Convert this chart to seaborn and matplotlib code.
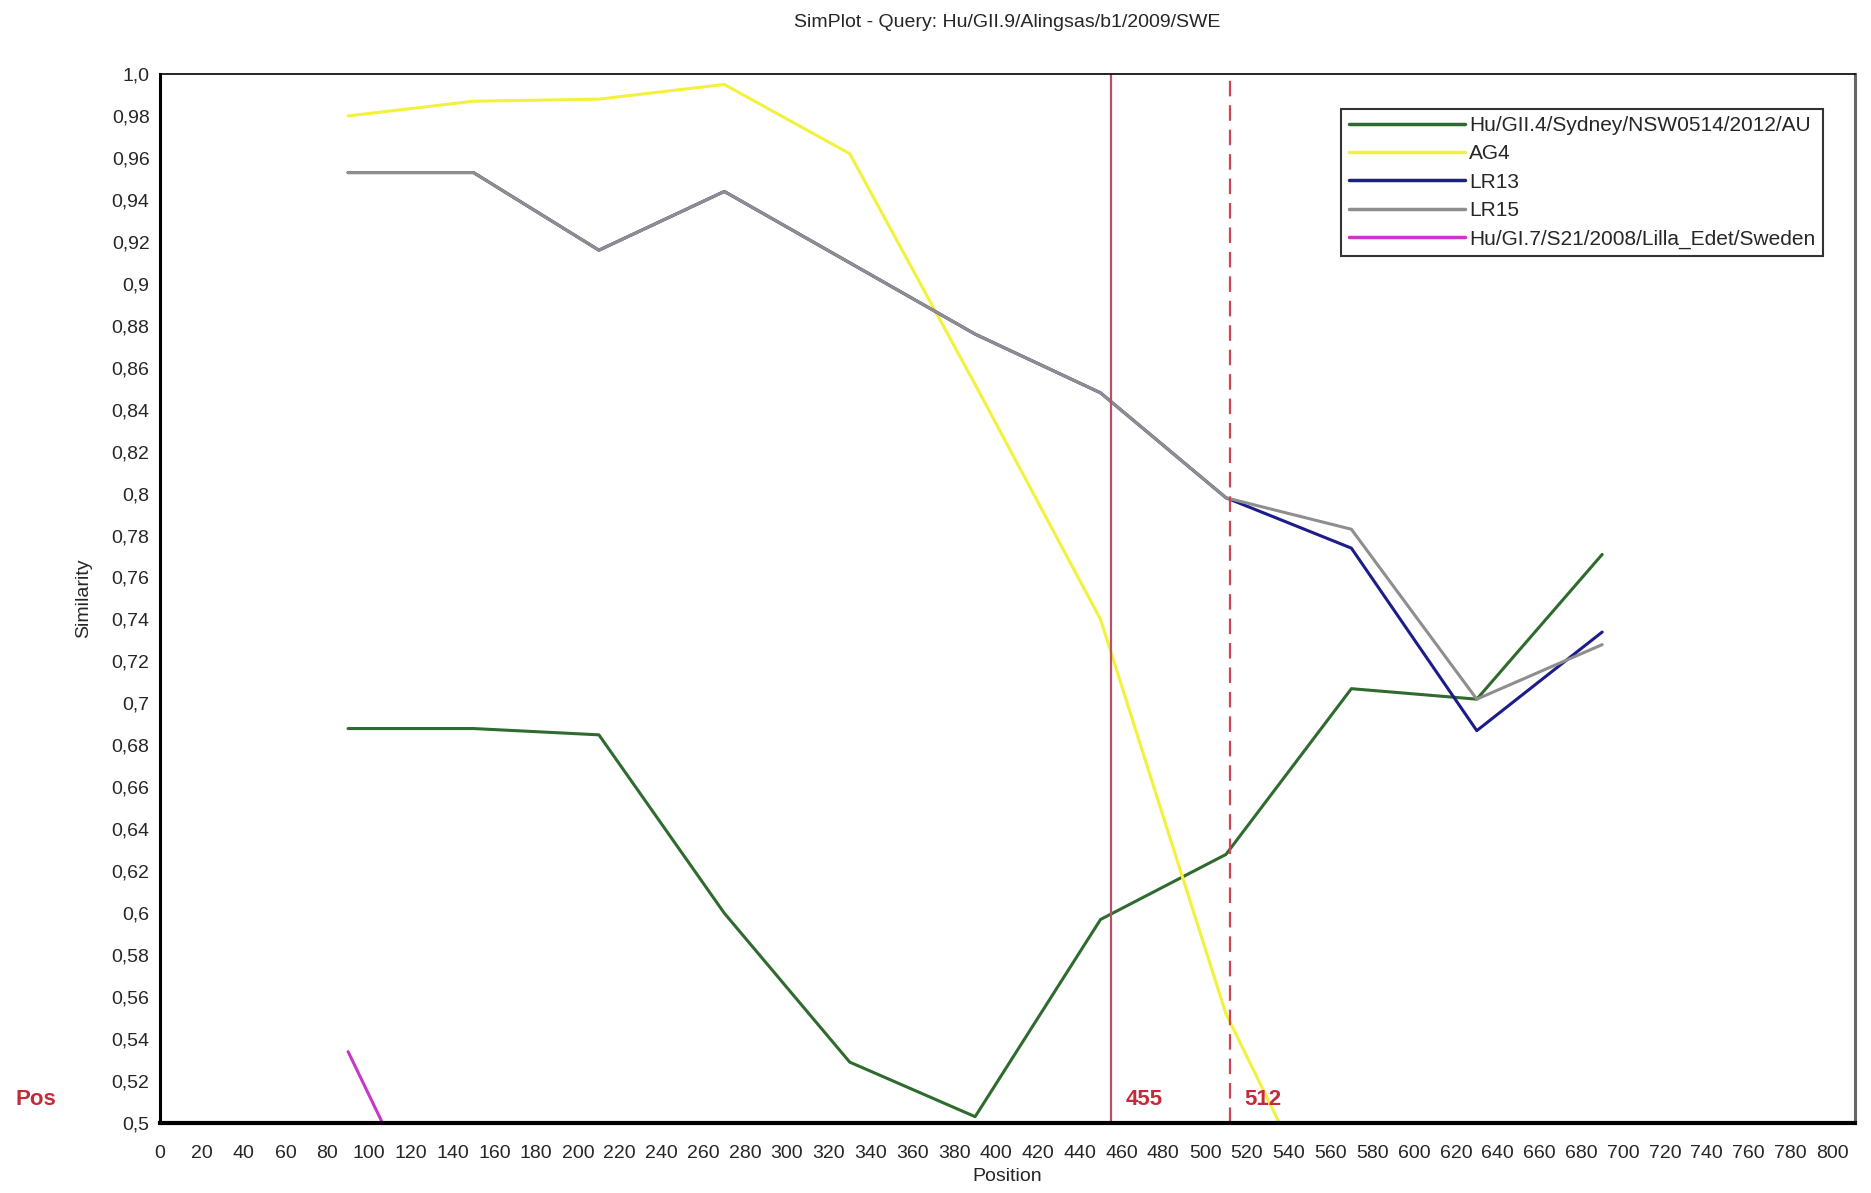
"""
SimPlot similarity recreation: query Hu/GII.9/Alingsas/b1/2009/SWE.
"""

import numpy as np
import pandas as pd
import matplotlib.pyplot as plt
import seaborn as sns
from matplotlib.ticker import MultipleLocator, FuncFormatter

# window centres (bp)
POSITIONS = [90, 150, 210, 270, 330, 390, 450, 510, 570, 630, 690]

SEQ_NAMES = [
    "Hu/GII.4/Sydney/NSW0514/2012/AU",
    "AG4",
    "LR13",
    "LR15",
    "Hu/GI.7/S21/2008/Lilla_Edet/Sweden",
]

sim_gii4 = [0.688, 0.688, 0.685, 0.600, 0.529, 0.503, 0.597, 0.628, 0.707, 0.702, 0.771]
sim_ag4 = [0.980, 0.987, 0.988, 0.995, 0.962, 0.852, 0.740, 0.552, 0.430]
sim_lr13 = [0.953, 0.953, 0.916, 0.944, 0.910, 0.876, 0.848, 0.798, 0.774, 0.687, 0.734]
sim_lr15 = [0.953, 0.953, 0.916, 0.944, 0.910, 0.876, 0.848, 0.798, 0.783, 0.702, 0.728]
sim_gi7 = [0.534, 0.410]

BREAKPOINTS = [455, 512]

COLORS = ["#2f6a2f", "#f2f23c", "#1c1c8a", "#8e8e8e", "#c837c8"]

rows = []
for name, vals in zip(SEQ_NAMES, [sim_gii4, sim_ag4, sim_lr13, sim_lr15, sim_gi7]):
    for p, v in zip(POSITIONS, vals):
        rows.append({"Position": p, "Similarity": v, "seq": name})
df = pd.DataFrame(rows)

sns.set_style("white")
plt.rcParams["font.family"] = ["Liberation Sans", "DejaVu Sans"]

fig = plt.figure(figsize=(18.71, 11.93), dpi=100)
ax = fig.add_axes([0.0855, 0.0587, 0.906, 0.8793])

sns.lineplot(data=df, x="Position", y="Similarity", hue="seq", hue_order=SEQ_NAMES,
             palette=dict(zip(SEQ_NAMES, COLORS)), estimator=None, sort=False,
             linewidth=2.2, ax=ax)

ax.axvline(BREAKPOINTS[0], color="#b8506a", linewidth=1.6)
ax.axvline(BREAKPOINTS[1], color="#cc4455", linewidth=1.6, linestyle=(0, (7, 4)))
for bp in BREAKPOINTS:
    ax.text(bp + 7, 0.511, str(bp), color="#c42a3a", fontsize=16, fontweight="bold",
            ha="left", va="center")
ax.text(-0.085, 0.511, "Pos", transform=ax.get_yaxis_transform(), color="#c42a3a",
        fontsize=16, fontweight="bold", ha="left", va="center")

ax.set_xlim(0, 811)
ax.set_ylim(0.5, 1.0)
ax.xaxis.set_major_locator(MultipleLocator(20))
ax.xaxis.set_minor_locator(MultipleLocator(5))
ax.yaxis.set_major_locator(MultipleLocator(0.02))


def comma_fmt(v, _):
    if abs(v - 1.0) < 1e-9:
        return "1,0"
    return f"{v:.2f}".rstrip("0").replace(".", ",")


ax.yaxis.set_major_formatter(FuncFormatter(comma_fmt))
ax.tick_params(axis="both", which="major", direction="out", length=4, width=1,
               labelsize=14, color="#888888")
ax.tick_params(axis="x", which="minor", direction="out", length=2, width=0.8, color="#888888")
ax.tick_params(axis="x", which="major", pad=12)

for side in ["left", "bottom"]:
    ax.spines[side].set_color("black")
ax.spines["left"].set_linewidth(2.2)
ax.spines["bottom"].set_linewidth(3.0)
ax.spines["top"].set_color("black")
ax.spines["top"].set_linewidth(1.2)
ax.spines["right"].set_color("#666666")
ax.spines["right"].set_linewidth(2.2)

ax.set_xlabel("Position", fontsize=14, labelpad=4)
ax.set_ylabel("Similarity", fontsize=14, labelpad=14)
ax.set_title("SimPlot - Query: Hu/GII.9/Alingsas/b1/2009/SWE", fontsize=14, pad=34)

leg = ax.legend(loc="upper right", bbox_to_anchor=(0.981, 0.967), fontsize=15,
                frameon=True, fancybox=False, edgecolor="black", handlelength=5.6,
                handletextpad=0.2, labelspacing=0.45, borderpad=0.35, borderaxespad=0)
leg.get_frame().set_linewidth(1.5)
for line in leg.get_lines():
    line.set_linewidth(2.5)

fig.savefig("out.png", dpi=100)
plt.close()
